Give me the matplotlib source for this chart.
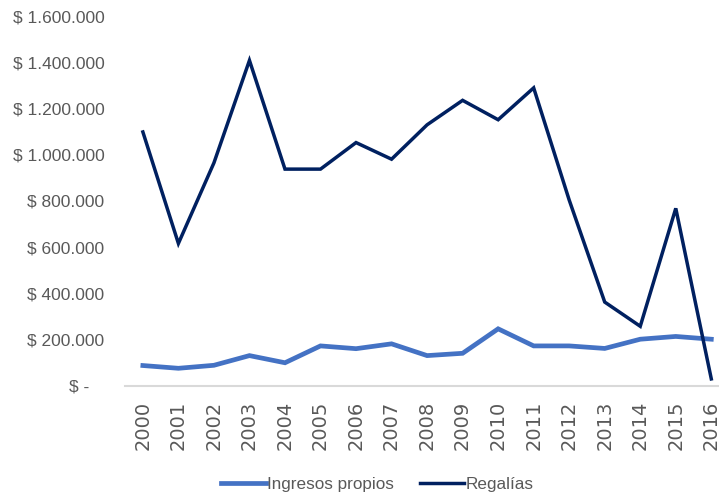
import matplotlib
matplotlib.use("Agg")
import matplotlib.pyplot as plt
import matplotlib.ticker as ticker

# Ingresos propios vs regalías, 2000-2016
YEARS = [str(y) for y in range(2000, 2017)]
INGRESOS_PROPIOS = [87000, 75000, 88000, 130000, 99000, 172000, 160000, 181000, 130000,
                    140000, 246000, 172000, 172000, 161000, 201000, 213000, 201000]
REGALIAS = [1099000, 616000, 965000, 1409000, 938000, 938000, 1053000, 981000, 1130000,
            1236000, 1152000, 1290000, 804000, 362000, 257000, 768000, 29000]
Y_TICKS = [0, 200000, 400000, 600000, 800000, 1000000, 1200000, 1400000, 1600000]

FONT = ["Liberation Sans", "DejaVu Sans"]
GRAY = "#595959"


def money(v, _):
    if v == 0:
        return "$ -   "
    return "$ " + f"{v:,.0f}".replace(",", ".")


fig = plt.figure(figsize=(7.19, 4.95), dpi=100)
ax = fig.add_axes([0.174, 0.221, 0.84, 0.746])

x = list(range(len(YEARS)))
ax.plot(x, INGRESOS_PROPIOS, color="#4472C4", linewidth=3.4, label="Ingresos propios",
        solid_joinstyle="miter")
ax.plot(x, REGALIAS, color="#002060", linewidth=2.5, label="Regalías",
        solid_joinstyle="miter")

ax.set_xlim(-0.5, len(YEARS) - 0.5)
ax.set_ylim(0, 1600000)
ax.set_yticks(Y_TICKS)
ax.yaxis.set_major_formatter(ticker.FuncFormatter(money))
ax.set_xticks(x)
ax.set_xticklabels(YEARS, rotation=90, fontsize=14, color=GRAY, family="DejaVu Sans")

for lbl in ax.get_yticklabels():
    lbl.set_family(FONT)
    lbl.set_fontsize(12.5)
    lbl.set_color(GRAY)

ax.tick_params(axis="both", length=0)
ax.tick_params(axis="y", pad=15)
ax.tick_params(axis="x", pad=11)

for side in ["top", "right", "left"]:
    ax.spines[side].set_visible(False)
ax.spines["bottom"].set_color("#D9D9D9")
ax.spines["bottom"].set_linewidth(1.5)

fig.legend(loc="center", bbox_to_anchor=(0.525, 0.022), ncol=2, frameon=False,
           handlelength=2.6, handletextpad=0.1, columnspacing=1.5,
           prop={"family": FONT, "size": 12.3}, labelcolor=GRAY)

fig.savefig("out.png", dpi=100)
